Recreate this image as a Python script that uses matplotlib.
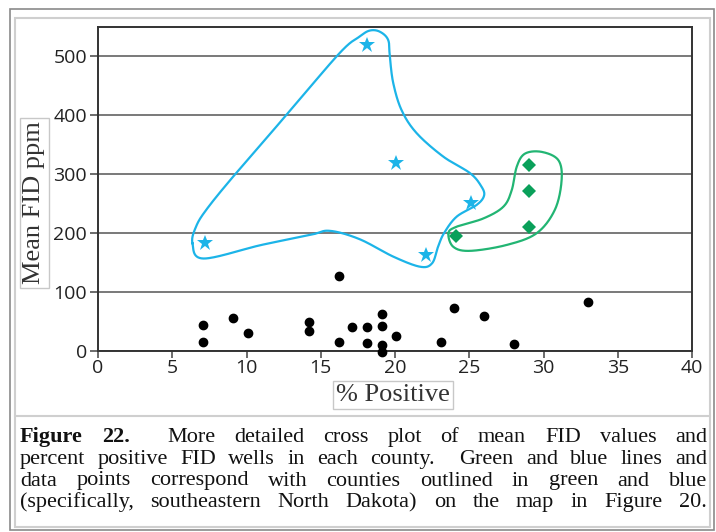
import numpy as np
import matplotlib
matplotlib.use("Agg")
import matplotlib.pyplot as plt
from matplotlib.patches import Rectangle
from matplotlib.lines import Line2D

# data
black_x = [7.1, 7.1, 9.1, 10.1, 14.2, 14.2, 16.2, 16.2, 17.1, 18.1, 18.1,
           19.1, 19.1, 19.1, 19.1, 20.1, 23.1, 24.0, 26.0, 28.0, 33.0]
black_y = [44, 16, 56, 30, 50, 34, 15, 128, 40, 40, 13,
           63, 43, 10, -2, 26, 15, 73, 59, 12, 83]

blue_x = [7.2, 18.1, 20.1, 25.1, 22.1]
blue_y = [183, 520, 319, 252, 163]

green_x = [24.1, 29.0, 29.0, 29.0]
green_y = [195, 316, 271, 210]

# hand drawn outlines (traced vertices)
blue_loop = [(6.36, 183), (7.1, 157), (11.0, 180), (14.3, 197), (15.6, 204),
             (17.6, 190), (19.9, 160), (21.7, 143), (22.5, 149), (22.9, 177),
             (23.3, 200), (24.15, 228), (25.5, 248), (26.0, 264), (25.8, 280),
             (25.05, 302), (23.25, 330), (21.45, 370), (20.44, 409), (19.88, 455),
             (19.65, 500), (19.54, 528), (18.98, 542), (18.31, 544), (17.63, 534),
             (16.28, 506), (12.7, 401), (9.1, 296), (7.3, 240), (6.6, 211)]
green_loop = [(23.6, 200), (23.92, 177), (25.05, 170), (27.52, 180), (29.54, 200),
              (30.77, 240), (31.22, 290), (31.0, 324), (29.88, 338), (28.75, 335),
              (28.2, 313), (27.86, 273), (27.3, 245), (25.95, 225), (24.15, 211)]

xticks = [0, 5, 10, 15, 20, 25, 30, 35, 40]
yticks = [0, 100, 200, 300, 400, 500]

caption = [
    "Figure 22.  More detailed cross plot of mean FID values and",
    "percent positive FID wells in each county.  Green and blue lines and",
    "data points correspond with counties outlined in green and blue",
    "(specifically, southeastern North Dakota) on the map in Figure 20.",
]

blue = "#1cb4e8"
green = "#22b573"
green_pt = "#0aa05a"


def smooth_loop(pts, n=30):
    p = np.array(pts, dtype=float)
    m = len(p)
    out = []
    t = np.linspace(0, 1, n, endpoint=False)[:, None]
    for i in range(m):
        p0, p1, p2, p3 = p[i - 1], p[i], p[(i + 1) % m], p[(i + 2) % m]
        seg = 0.5 * ((2 * p1) + (-p0 + p2) * t + (2 * p0 - 5 * p1 + 4 * p2 - p3) * t**2
                     + (-p0 + 3 * p1 - 3 * p2 + p3) * t**3)
        out.append(seg)
    out = np.vstack(out)
    return np.vstack([out, out[:1]])


W, H = 716, 532
fig = plt.figure(figsize=(W / 100, H / 100), dpi=100)


def fx(x):
    return x / W


def fy(y):
    return 1 - y / H


# frames
fig.patches.append(Rectangle((fx(10), fy(530)), fx(704), (530 - 9) / H, transform=fig.transFigure,
                             fill=False, edgecolor="#8a8a8a", linewidth=1.2))
fig.patches.append(Rectangle((fx(15), fy(527)), fx(695), (527 - 18) / H, transform=fig.transFigure,
                             fill=False, edgecolor="#cfcfcf", linewidth=1.5))
fig.lines.append(Line2D([fx(15), fx(710)], [fy(416), fy(416)], transform=fig.transFigure,
                        color="#cfcfcf", linewidth=1.5))

ax = fig.add_axes([fx(98), fy(351), fx(692 - 98), (351 - 27) / H])
ax.set_xlim(0, 40)
ax.set_ylim(0, 550)
ax.set_xticks(xticks)
ax.set_yticks(yticks)
ax.grid(axis="y", color="#555555", linewidth=1.1)
ax.set_axisbelow(True)
for s in ax.spines.values():
    s.set_color("#333333")
    s.set_linewidth(1.4)
ax.tick_params(axis="both", direction="out", color="#444444", width=1.1,
               labelsize=14, labelcolor="#222222")
ax.tick_params(axis="y", length=6, pad=2)
ax.tick_params(axis="x", length=5, pad=1)
for lab in ax.get_xticklabels() + ax.get_yticklabels():
    lab.set_family("Open Sans")

bl = smooth_loop(blue_loop)
ax.plot(bl[:, 0], bl[:, 1], color=blue, linewidth=1.6, zorder=3)
gl = smooth_loop(green_loop)
ax.plot(gl[:, 0], gl[:, 1], color=green, linewidth=1.6, zorder=3)

ax.plot(black_x, black_y, "o", color="black", markersize=6, zorder=4, clip_on=False)
ax.plot(blue_x, blue_y, "*", color=blue, markersize=12, markeredgewidth=0, zorder=4)
ax.plot(green_x, green_y, "D", color=green_pt, markersize=7, markeredgewidth=0, zorder=4)

box = dict(boxstyle="square,pad=0.12", facecolor="white", edgecolor="#c8c8c8", linewidth=1)
fig.text(fx(34.5), fy(203), "Mean FID ppm", rotation=90, ha="center", va="center",
         family="Liberation Serif", fontsize=19, color="#333333", bbox=box)
fig.text(fx(393), fy(395), "% Positive", ha="center", va="center",
         family="Liberation Serif", fontsize=19, color="#333333", bbox=box)

# justified caption (double space after a full stop)
left, right = 20, 707
base_y = [442, 464, 485.5, 507]
cap_fs = 16
fig.canvas.draw()
rend = fig.canvas.get_renderer()

for i, line in enumerate(caption):
    words = line.split()
    arts = []
    for j, w in enumerate(words):
        bold = (i == 0 and j < 2)
        t = fig.text(0, fy(base_y[i]), w, ha="left", va="baseline",
                     family="Liberation Serif", fontsize=cap_fs,
                     weight="bold" if bold else "normal", color="#111111")
        arts.append(t)
    widths = [a.get_window_extent(rend).width for a in arts]
    weights = [2.0 if w.endswith(".") else 1.0 for w in words[:-1]]
    unit = (right - left - sum(widths)) / sum(weights)
    x = left
    for k, (a, w) in enumerate(zip(arts, widths)):
        a.set_x(fx(x))
        if k < len(weights):
            x += w + unit * weights[k]

fig.savefig("out.png", dpi=100)
